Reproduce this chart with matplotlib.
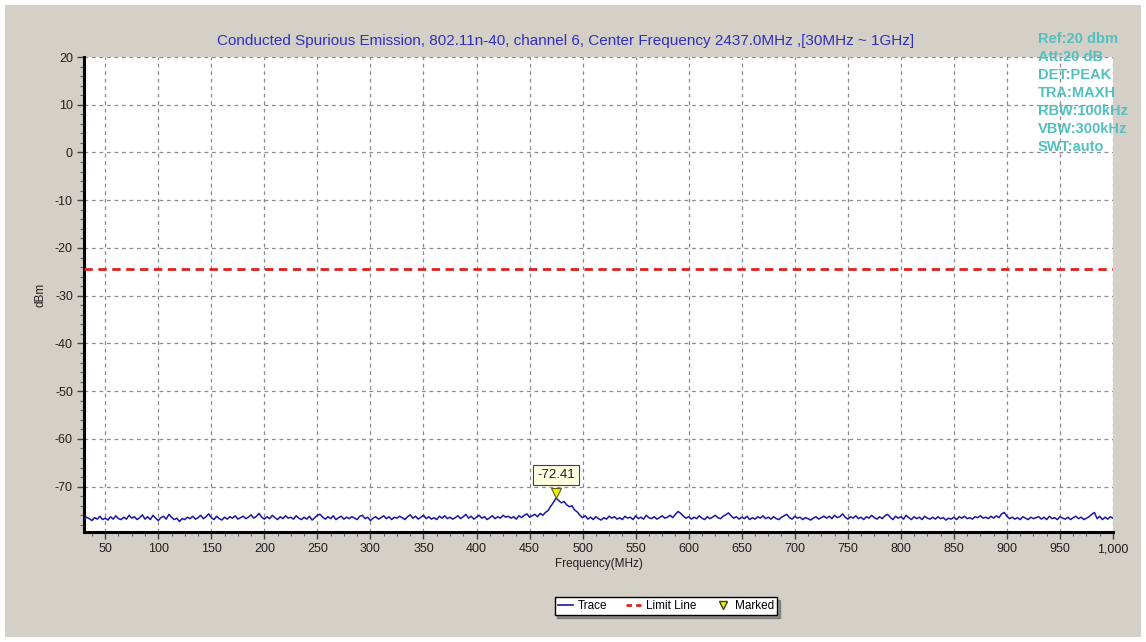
import numpy as np
import matplotlib
matplotlib.use("Agg")
import matplotlib.pyplot as plt
from matplotlib.ticker import MultipleLocator, AutoMinorLocator, FuncFormatter
from matplotlib.lines import Line2D
from matplotlib.patches import Rectangle
import matplotlib.transforms as mtransforms

plt.rcParams['font.family'] = ['Liberation Sans', 'DejaVu Sans']

# ---------------- data ----------------
title = "Conducted Spurious Emission, 802.11n-40, channel 6, Center Frequency 2437.0MHz ,[30MHz ~ 1GHz]"
start_mhz = 30
stop_mhz = 1000
trace_dbm = [
    -76.9, -76.4, -76.7, -77.1, -76.5, -76.8, -76.2, -76.9, -76.6, -77.0, -76.3, -76.8, -76.1, -76.7, -76.9, -76.4, -76.8, -76.0, -76.6, -76.3,
    -76.9, -76.5, -75.9, -76.8, -76.3, -76.9, -76.0, -76.6, -77.1, -76.5, -76.2, -76.8, -75.8, -76.4, -76.9, -76.6, -77.3, -76.7, -76.9, -76.4,
    -76.7, -76.2, -76.8, -76.5, -76.0, -76.7, -76.3, -75.7, -76.5, -76.9, -76.2, -76.7, -77.0, -76.4, -76.8, -76.3, -76.6, -76.1, -76.8, -76.5,
    -76.2, -76.7, -76.4, -75.9, -76.6, -76.2, -75.6, -76.4, -76.8, -76.3, -76.7, -76.0, -76.5, -76.9, -76.3, -76.7, -76.1, -76.6, -76.4, -76.8,
    -76.1, -76.6, -76.9, -76.4, -76.8, -76.2, -77.0, -76.5, -76.0, -75.8, -76.4, -76.8, -76.3, -76.7, -76.1, -76.9, -76.5, -76.2, -76.8, -76.4,
    -76.7, -76.3, -76.6, -76.9, -76.2, -76.0, -76.7, -76.4, -77.1, -76.6, -76.3, -76.8, -76.5, -76.1, -76.7, -76.3, -76.9, -76.4, -76.6, -76.2,
    -76.5, -76.9, -76.3, -75.9, -76.6, -76.2, -76.8, -76.4, -76.0, -76.7, -76.3, -76.8, -76.5, -76.9, -76.2, -76.6, -76.1, -76.7, -76.4, -76.8,
    -76.5, -76.1, -76.7, -76.3, -75.8, -76.6, -76.2, -76.8, -76.4, -76.0, -76.6, -76.3, -76.9, -76.5, -76.1, -76.7, -76.3, -76.6, -76.0, -76.4,
    -76.2, -76.6, -76.3, -76.8, -76.1, -76.5, -76.0, -75.7, -76.4, -76.1, -75.8, -76.3, -75.6, -76.0, -75.4, -75.0, -74.1, -73.3, -72.41, -72.9,
    -73.4, -73.1, -73.8, -74.2, -74.0, -74.9, -75.3, -76.0, -76.5, -76.1, -76.8, -76.4, -76.9, -76.3, -76.7, -77.0, -76.5, -76.8, -76.2, -76.6,
    -76.3, -76.8, -76.5, -76.9, -76.2, -76.6, -76.4, -76.9, -76.1, -76.7, -76.4, -76.8, -76.0, -76.5, -76.7, -76.3, -76.8, -76.5, -76.1, -76.6,
    -76.4, -76.0, -76.5, -75.8, -75.2, -75.6, -76.2, -76.6, -76.3, -76.8, -76.4, -76.7, -76.1, -76.6, -76.9, -76.3, -76.7, -76.4, -76.0, -76.5,
    -76.7, -76.2, -75.9, -75.5, -76.1, -76.6, -76.3, -76.8, -76.4, -76.7, -76.2, -76.9, -76.5, -76.8, -76.3, -76.6, -76.1, -76.7, -76.4, -76.8,
    -76.3, -76.7, -76.9, -76.4, -76.1, -75.8, -76.5, -76.8, -76.2, -76.6, -76.4, -76.9, -76.5, -76.7, -77.0, -76.6, -76.3, -76.8, -76.5, -76.2,
    -76.6, -76.2, -76.7, -76.0, -76.5, -76.3, -75.7, -76.4, -76.8, -76.3, -76.6, -76.1, -76.7, -76.4, -76.9, -76.3, -76.6, -76.0, -76.5, -76.8,
    -76.3, -76.7, -76.1, -75.8, -76.4, -76.9, -76.2, -76.6, -76.3, -76.8, -76.0, -76.5, -76.9, -76.3, -76.7, -76.4, -76.9, -76.2, -76.6, -76.8,
    -76.4, -76.8, -76.3, -76.7, -76.5, -77.0, -76.6, -76.8, -76.4, -76.9, -76.3, -76.6, -76.2, -76.7, -76.5, -76.8, -76.3, -76.5, -76.1, -76.6,
    -76.4, -76.7, -76.2, -76.6, -76.1, -76.5, -75.7, -75.4, -76.2, -76.7, -76.4, -76.8, -76.5, -76.9, -76.3, -76.6, -76.9, -76.4, -76.7, -76.5,
    -76.3, -76.8, -76.4, -76.9, -76.2, -76.7, -76.5, -76.9, -76.3, -76.6, -76.8, -76.4, -76.9, -76.5, -76.2, -76.7, -76.4, -76.9, -76.6, -76.3,
    -75.8, -75.4, -76.7, -76.2, -76.9, -76.4, -76.8, -76.3, -76.6,
]
freq_mhz = np.linspace(start_mhz, stop_mhz, len(trace_dbm))
limit_dbm = -24.4
marker_freq = 475
marker_dbm = -72.41
settings = ["Ref:20 dbm", "Att:20 dB", "DET:PEAK", "TRA:MAXH",
            "RBW:100kHz", "VBW:300kHz", "SWT:auto"]
legend_labels = ["Trace", "Limit Line", "Marked"]

# ---------------- figure ----------------
W, H = 1146, 642
fig = plt.figure(figsize=(W / 100, H / 100), dpi=100, facecolor="white")
fig.patches.append(Rectangle((5 / W, 5 / H), 1 - 10 / W, 1 - 10 / H,
                             transform=fig.transFigure, facecolor="#D4D0C8",
                             edgecolor="none", zorder=-10))

ax = fig.add_axes([84 / W, 1 - 532 / H, (1113 - 84) / W, (532 - 57) / H])
ax.set_facecolor("white")

trace_color = "#1616A8"
ax.plot(freq_mhz, trace_dbm, color=trace_color, lw=1.1, zorder=3)
ax.axhline(limit_dbm, color="#E02020", lw=2.0, ls=(0, (3, 2)), zorder=3)

# marker (triangle just above the point)
off = mtransforms.offset_copy(ax.transData, fig=fig, x=0, y=4, units="points")
ax.plot([marker_freq], [marker_dbm], marker="v", ms=7, mfc="#F0F020",
        mec="#606000", mew=0.8, ls="none", transform=off, zorder=5)
ax.annotate(f"{marker_dbm:.2f}", xy=(marker_freq, marker_dbm), xytext=(0, 17),
            textcoords="offset points", ha="center", va="center", fontsize=9.5,
            color="#202020",
            bbox=dict(boxstyle="square,pad=0.3", fc="#FFFFE1", ec="#404040", lw=0.8),
            zorder=6)

ax.set_xlim(start_mhz, stop_mhz)
ax.set_ylim(-79.5, 20)
ax.xaxis.set_major_locator(MultipleLocator(50))
ax.xaxis.set_minor_locator(AutoMinorLocator(4))
ax.yaxis.set_major_locator(MultipleLocator(10))
ax.yaxis.set_minor_locator(AutoMinorLocator(5))
ax.xaxis.set_major_formatter(FuncFormatter(lambda v, p: f"{int(v):,}"))
ax.yaxis.set_major_formatter(FuncFormatter(lambda v, p: f"{int(v)}"))

ax.grid(True, which="major", color="#8A8A8A", ls=(0, (3, 3)), lw=0.9)
for s in ["top", "right"]:
    ax.spines[s].set_visible(False)
for s in ["left", "bottom"]:
    ax.spines[s].set_linewidth(2.2)
    ax.spines[s].set_color("black")
ax.tick_params(which="major", length=5, width=1, color="#404040",
               labelsize=9, labelcolor="#202020", pad=3)
ax.tick_params(which="minor", length=3, width=0.8, color="#606060")

ax.set_xlabel("Frequency(MHz)", fontsize=8.5, color="#202020", labelpad=2)
ax.set_ylabel("dBm", fontsize=8.5, color="#202020", labelpad=6)

fig.text(566 / W, 1 - 41 / H, title, ha="center", va="center",
         fontsize=11, color="#3030C0")

for i, s in enumerate(settings):
    fig.text(1038 / W, 1 - (39 + 18 * i) / H, s, ha="left", va="center",
             fontsize=10.5, fontweight="bold", color="#52C0C0",
             family=["Liberation Sans Narrow", "Liberation Sans", "DejaVu Sans"])

handles = [
    Line2D([], [], color=trace_color, lw=1.2),
    Line2D([], [], color="#E02020", lw=2, ls=(0, (2, 1.5))),
    Line2D([], [], color="#F0F020", marker="v", mec="#404000", ms=6, ls="none"),
]
leg = fig.legend(handles, legend_labels, loc="center",
                 bbox_to_anchor=(666 / W, 1 - 606 / H), ncol=3, fontsize=8.5,
                 frameon=True, fancybox=False, shadow=True, handlelength=1.3,
                 handletextpad=0.4, columnspacing=1.6, borderpad=0.25,
                 borderaxespad=0)
leg.get_frame().set_edgecolor("black")
leg.get_frame().set_linewidth(1.0)

fig.savefig("out.png", dpi=100, facecolor=fig.get_facecolor())
